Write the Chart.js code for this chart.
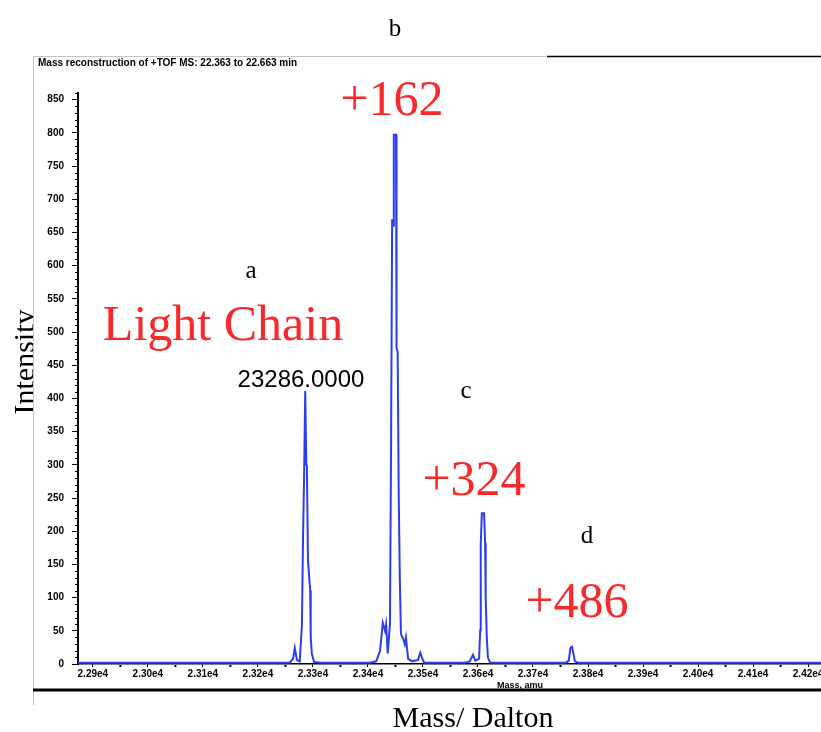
<!DOCTYPE html>
<html lang="en">
<head>
    <meta charset="UTF-8">
    <title>Mass reconstruction - Light Chain</title>
    <script src="https://cdn.jsdelivr.net/npm/chart.js"></script>
    <style>
        html, body {
            margin: 0;
            padding: 0;
            background: #fff;
            overflow: hidden;
            width: 821px;
            height: 732px;
        }
        #wrap {
            position: absolute;
            left: 0;
            top: 0;
            width: 840px;
            height: 732px;
        }
    </style>
</head>
<body>
    <div id="wrap">
        <canvas id="spectrum" width="840" height="732"></canvas>
    </div>
    <script>
        // deconvoluted spectrum (mass in Da, intensity)
        var masses = [
            22873, 23258, 23264, 23267, 23271, 23276, 23280, 23282, 23284, 23286,
            23288, 23289, 23291, 23295, 23296, 23298, 23302, 23313,
            23404, 23415, 23422, 23427, 23431, 23433, 23436, 23440, 23442, 23444,
            23446, 23447, 23451, 23452, 23454, 23456, 23458, 23460, 23464, 23467,
            23469, 23473, 23480, 23491, 23495, 23498, 23502,
            23576, 23585, 23591, 23595, 23602, 23604, 23605, 23607, 23611, 23613,
            23614, 23616, 23618, 23622,
            23760, 23765, 23768, 23771, 23773, 23776, 23782, 24258
        ];
        var intensity = [
            2, 2, 8, 24, 6, 4, 59, 190, 284, 411,
            300, 299, 156, 111, 40, 16, 3, 2,
            2, 4, 20, 62, 50, 60, 16, 60, 324, 670,
            660, 797, 797, 476, 470, 251, 126, 45, 38, 30,
            40, 8, 4, 6, 17, 10, 2,
            2, 4, 14, 5, 8, 51, 180, 227, 227, 182,
            100, 41, 10, 2,
            2, 5, 24, 26, 18, 4, 2, 2
        ];

        var xTicks = [22900, 23000, 23100, 23200, 23300, 23400, 23500, 23600,
                      23700, 23800, 23900, 24000, 24100, 24200];
        var yTicks = [0, 50, 100, 150, 200, 250, 300, 350, 400, 450,
                      500, 550, 600, 650, 700, 750, 800, 850];

        var topLabel = 'Mass reconstruction of +TOF MS: 22.363 to 22.663 min';
        var peakMass = '23286.0000';

        var serif = '"Liberation Serif", "Times New Roman", serif';
        var sans = '"Liberation Sans", Arial, sans-serif';
        var red = '#f8282b';

        var points = masses.map(function (m, i) { return { x: m, y: intensity[i] }; });

        // frame, minor ticks and all the text around the plot
        var decorations = {
            id: 'decorations',
            afterDraw: function (chart) {
                var ctx = chart.ctx;
                var xs = chart.scales.x;
                var ys = chart.scales.y;
                var area = chart.chartArea;
                ctx.save();

                // outer frame
                ctx.strokeStyle = '#c4c4c4';
                ctx.lineWidth = 1;
                ctx.beginPath();
                ctx.moveTo(33.5, 705);
                ctx.lineTo(33.5, 56.5);
                ctx.lineTo(546, 56.5);
                ctx.stroke();
                ctx.strokeStyle = '#000';
                ctx.lineWidth = 1.3;
                ctx.beginPath();
                ctx.moveTo(547, 56.5);
                ctx.lineTo(821, 56.5);
                ctx.stroke();
                ctx.lineWidth = 3;
                ctx.beginPath();
                ctx.moveTo(33, 690);
                ctx.lineTo(821, 690);
                ctx.stroke();

                // minor ticks on y every 10
                ctx.lineWidth = 1;
                ctx.beginPath();
                for (var v = 0; v <= 860; v += 10) {
                    if (v % 50 === 0) continue;
                    var py = Math.round(ys.getPixelForValue(v)) + 0.5;
                    ctx.moveTo(area.left - 3, py);
                    ctx.lineTo(area.left, py);
                }
                ctx.stroke();

                // minor dots on x halfway between labels
                ctx.fillStyle = '#000';
                xTicks.forEach(function (t) {
                    var px = xs.getPixelForValue(t + 50);
                    if (px < area.right) ctx.fillRect(px - 1, area.bottom + 1, 2, 2);
                });

                // instrument header
                ctx.fillStyle = '#000';
                ctx.font = 'bold 10px ' + sans;
                ctx.textAlign = 'left';
                ctx.textBaseline = 'alphabetic';
                ctx.fillText(topLabel, 38, 66, 280);

                // x axis caption under the ticks
                ctx.font = 'bold 9px ' + sans;
                ctx.textAlign = 'center';
                ctx.fillText('Mass, amu', 520, 688);

                // panel letters
                ctx.font = '25px ' + serif;
                ctx.fillText('b', 395, 36);
                ctx.fillText('a', 251, 278);
                ctx.fillText('c', 466, 398);
                ctx.fillText('d', 587, 543);

                // peak mass
                ctx.font = '24px ' + sans;
                ctx.fillText(peakMass, 301, 387);

                // red annotations
                ctx.fillStyle = red;
                ctx.font = '50px ' + serif;
                ctx.fillText('Light Chain', 223, 340);
                ctx.fillText('+162', 392, 115);
                ctx.fillText('+324', 474, 495);
                ctx.fillText('+486', 577, 617);

                // axis titles
                ctx.fillStyle = '#000';
                ctx.font = '30px ' + serif;
                ctx.fillText('Mass/ Dalton', 473, 727);

                ctx.save();
                ctx.beginPath();
                ctx.rect(0, 0, 33, 732);
                ctx.clip();
                ctx.translate(34, 362);
                ctx.rotate(-Math.PI / 2);
                ctx.fillText('Intensity', 0, 0);
                ctx.restore();

                ctx.restore();
            }
        };

        new Chart(document.getElementById('spectrum'), {
            type: 'line',
            data: {
                datasets: [{
                    label: 'Intensity',
                    data: points,
                    borderColor: '#2b3df2',
                    borderWidth: 2,
                    pointRadius: 0,
                    tension: 0,
                    fill: false
                }]
            },
            options: {
                responsive: false,
                animation: false,
                layout: { padding: { top: 93, left: 0, right: 0, bottom: 0 } },
                plugins: {
                    legend: { display: false },
                    tooltip: { enabled: false }
                },
                scales: {
                    x: {
                        type: 'linear',
                        min: 22873,
                        max: 24258,
                        afterBuildTicks: function (scale) {
                            scale.ticks = xTicks.map(function (v) { return { value: v }; });
                        },
                        afterFit: function (scale) { scale.height = 68; },
                        grid: {
                            drawOnChartArea: false,
                            drawTicks: true,
                            tickLength: 3,
                            color: '#000'
                        },
                        border: { color: '#000', width: 1.5 },
                        ticks: {
                            color: '#000',
                            font: { family: sans, size: 10, weight: 'bold' },
                            padding: 1,
                            maxRotation: 0,
                            autoSkip: false,
                            callback: function (v) { return (v / 10000).toFixed(2) + 'e4'; }
                        }
                    },
                    y: {
                        min: 0,
                        max: 860,
                        afterBuildTicks: function (scale) {
                            scale.ticks = yTicks.map(function (v) { return { value: v }; });
                        },
                        afterFit: function (scale) { scale.width = 78; },
                        grid: {
                            drawOnChartArea: false,
                            drawTicks: true,
                            tickLength: 6,
                            color: '#000'
                        },
                        border: { color: '#000', width: 2 },
                        ticks: {
                            color: '#000',
                            font: { family: sans, size: 10, weight: 'bold' },
                            padding: 8
                        }
                    }
                }
            },
            plugins: [decorations]
        });
    </script>
</body>
</html>
